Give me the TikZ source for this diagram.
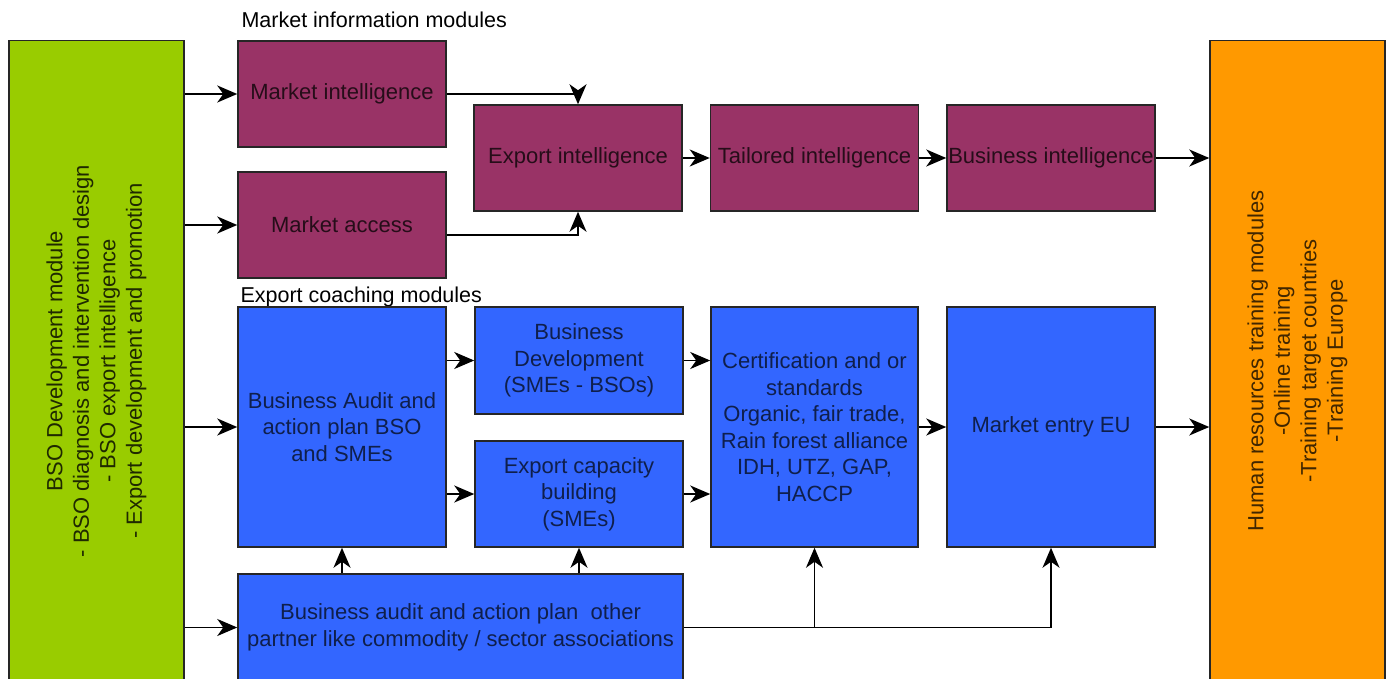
\documentclass[tikz,border=0pt]{standalone}
\usepackage{fontspec}
\setmainfont{Liberation Sans}
\usetikzlibrary{arrows.meta}
\definecolor{bsogreen}{HTML}{99CC00}
\definecolor{infored}{HTML}{993366}
\definecolor{coachblue}{HTML}{3366FF}
\definecolor{hrorange}{HTML}{FF9900}

\begin{document}
\begin{tikzpicture}[x=1pt, y=-1pt,
  box/.style={draw=black!85, line width=1.5pt, inner sep=0pt, align=center, font=\fontsize{22}{26.5}\selectfont},
  info/.style={box, fill=infored, text=infored!25!black, minimum width=208pt, minimum height=106pt},
  coach/.style={box, fill=coachblue, text=coachblue!30!black},
  side/.style={box, rotate=90, minimum width=641pt, minimum height=175pt},
  arr/.style={-{Stealth[length=20pt, width=17pt, inset=6pt]}, line width=1.5pt},
  lbl/.style={anchor=base west, font=\fontsize{21.5}{25}\selectfont}]
  \useasboundingbox (0,0) rectangle (1389,679);

  \node[side, fill=bsogreen, text=bsogreen!20!black] (bso) at (96.5,361) {BSO Development module\\- BSO diagnosis and intervention design\\- BSO export intelligence\\- Export development and promotion};
  \node[side, fill=hrorange, text=hrorange!25!black] (hr) at (1297.5,361) {Human resources training modules\\-Online training\\-Training target countries\\-Training Europe};

  \node[lbl] (infolbl) at (238,28) {Market information modules};
  \node[info] (mi) at (342,94) {Market intelligence};
  \node[info] (ma) at (342,225) {Market access};
  \node[info] (ei) at (578,158) {Export intelligence};
  \node[info] (ti) at (814.5,158) {Tailored intelligence};
  \node[info] (bi) at (1051,158) {Business intelligence};

  \node[lbl] (coachlbl) at (237,302) {Export coaching modules};
  \node[coach, minimum width=208pt, minimum height=240pt] (audit) at (342,427) {Business Audit and\\action plan BSO\\and SMEs};
  \node[coach, minimum width=208pt, minimum height=107pt] (bd) at (579,360.5) {Business\\Development\\(SMEs - BSOs)};
  \node[coach, minimum width=208pt, minimum height=106pt] (ecb) at (579,494) {Export capacity\\building\\(SMEs)};
  \node[coach, minimum width=207pt, minimum height=240pt] (cert) at (814.5,427) {Certification and or\\standards\\Organic, fair trade,\\Rain forest alliance\\IDH, UTZ, GAP,\\HACCP};
  \node[coach, minimum width=208pt, minimum height=240pt] (entry) at (1051,427) {Market entry EU};
  \node[coach, minimum width=445pt, minimum height=107pt] (other) at (460.5,627.5) {Business audit and action plan\ \ other\\partner like commodity / sector associations};

  \draw[arr] (mi.west -| bso.south) -- (mi.west);
  \draw[arr] (ma.west -| bso.south) -- (ma.west);
  \draw[arr] (audit.west -| bso.south) -- (audit.west);
  \draw[arr] (other.west -| bso.south) -- (other.west);

  \draw[arr] (mi.east) -| (ei.north);
  \draw[arr] ([yshift=-10pt]ma.east) -| (ei.south);
  \draw[arr] (ei) -- (ti);
  \draw[arr] (ti) -- (bi);
  \draw[arr] (bi.east) -- (bi.east -| hr.north);

  \draw[arr] (bd.west -| audit.east) -- (bd.west);
  \draw[arr] (ecb.west -| audit.east) -- (ecb.west);
  \draw[arr] (bd.east) -- (bd.east -| cert.west);
  \draw[arr] (ecb.east) -- (ecb.east -| cert.west);
  \draw[arr] (cert) -- (entry);
  \draw[arr] (entry.east) -- (entry.east -| hr.north);

  \draw[arr] (audit.south |- other.north) -- (audit.south);
  \draw[arr] (ecb.south |- other.north) -- (ecb.south);
  \draw[arr] (other.east) -| (entry.south);
  \draw[arr] (cert.south |- other.east) -- (cert.south);
\end{tikzpicture}
\end{document}
